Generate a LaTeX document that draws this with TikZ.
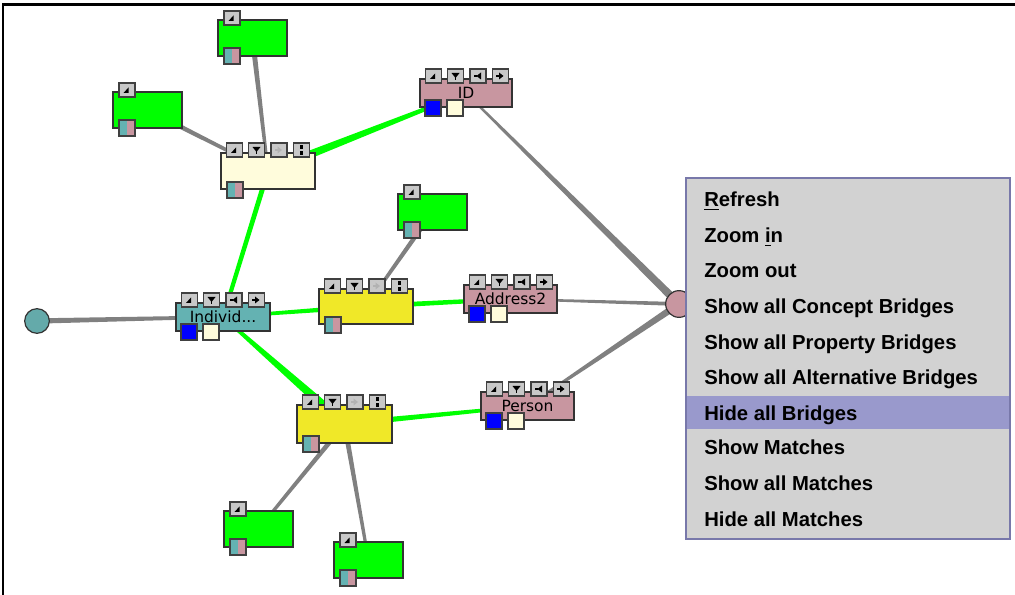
\documentclass[tikz,border=0pt]{standalone}
\usepackage{fontspec}
\newfontfamily\menufont{Liberation Sans}
\newfontfamily\labelfont{DejaVu Sans}
\usetikzlibrary{calc}

\definecolor{pinkc}{RGB}{200,150,160}
\definecolor{tealc}{RGB}{100,178,178}
\definecolor{creamc}{RGB}{255,252,220}
\definecolor{yellowc}{RGB}{240,232,40}
\definecolor{greenc}{RGB}{0,255,0}
\definecolor{edgegray}{RGB}{128,128,128}
\definecolor{btngray}{RGB}{200,200,200}
\definecolor{menubg}{RGB}{210,210,210}
\definecolor{menuedge}{RGB}{120,120,170}
\definecolor{menuhl}{RGB}{153,153,204}
\definecolor{rcirc}{RGB}{200,150,160}
\definecolor{lcirc}{RGB}{100,170,170}

\pgfdeclarelayer{bg}
\pgfdeclarelayer{edges}
\pgfsetlayers{bg,edges,main}

\tikzset{
  bodybox/.style={draw=black!80, line width=0.9pt, inner sep=0pt,
    font=\labelfont\fontsize{11.6}{13}\selectfont},
  btnbox/.style={draw=black!75, fill=btngray, line width=0.8pt, inner sep=0pt,
    minimum width=12pt, minimum height=10.5pt},
  sqbox/.style={draw=black!75, line width=0.8pt, inner sep=0pt, minimum size=12pt},
  splitsq/.style={sqbox, fill=tealc, path picture={
    \fill[pinkc] (path picture bounding box.north) rectangle (path picture bounding box.south east);}},
  menuitem/.style={anchor=base west, inner sep=0pt,
    font=\menufont\bfseries\fontsize{15.2}{18}\selectfont},
  upicon/.pic={\fill (-3.5,3) -- (1.5,3) -- (1.5,-2.5) -- cycle;},
  downicon/.pic={\fill (-4,-3) -- (4,-3) -- (0,2) -- cycle; \fill (-0.7,1) rectangle (0.7,4);},
  lefticon/.pic={\fill (-1.5,0) -- (3,-3.5) -- (3,3.5) -- cycle; \fill (-4.5,-0.7) rectangle (-1.5,0.7);},
  righticon/.pic={\fill (3,0) -- (-1.5,-3.5) -- (-1.5,3.5) -- cycle; \fill (-4.5,-0.7) rectangle (-1.5,0.7);},
  greyicon/.pic={\fill[black!30] (3,0) -- (-1.5,-3.5) -- (-1.5,3.5) -- cycle; \fill[black!30] (-4.5,-0.7) rectangle (-1.5,0.7);},
  splicon/.pic={\fill (-1.2,-5) rectangle (1.2,-1); \fill (-1.2,1) rectangle (1.2,5);},
}

% body rectangle: name, left, top, width, height, fill, label
\newcommand\mkbody[7]{\node[bodybox, fill=#6, minimum width={#4*0.75pt}, minimum height={#5*0.75pt}] (#1) at ({#2+#4/2},{#3+#5/2}) {#7};}
% small push button: name, left, top, icon
\newcommand\mkbtn[4]{\node[btnbox] (#1) at ({#2+8},{#3+7}) {}; \pic at (#1) {#4};}

% property-style node with four arrow buttons and two colour squares
\newcommand\propnode[7]{%
  \mkbody{#1}{#2}{#3}{#4}{#5}{#6}{#7}
  \mkbtn{#1-b1}{#2+5.5}{#3-10}{upicon}
  \mkbtn{#1-b2}{#2+27.5}{#3-10}{downicon}
  \mkbtn{#1-b3}{#2+50}{#3-10}{lefticon}
  \mkbtn{#1-b4}{#2+72.5}{#3-10}{righticon}
  \node[sqbox, fill=blue] (#1-s1) at ({#2+5+8},{#3+#5-7+8}) {};
  \node[sqbox, fill=creamc] (#1-s2) at ({#2+27+8},{#3+#5-7+8}) {};
}
% concept node with buttons and a split square
\newcommand\conceptnode[6]{%
  \mkbody{#1}{#2}{#3}{#4}{#5}{#6}{}
  \mkbtn{#1-b1}{#2+5.5}{#3-10}{upicon}
  \mkbtn{#1-b2}{#2+27.5}{#3-10}{downicon}
  \mkbtn{#1-b3}{#2+50}{#3-10}{greyicon}
  \mkbtn{#1-b4}{#2+72.5}{#3-10}{splicon}
  \node[splitsq] (#1-s) at ({#2+6+8},{#3+#5-7+8}) {};
}
% green leaf node
\newcommand\leafnode[3]{%
  \mkbody{#1}{#2}{#3}{69}{36}{greenc}{}
  \mkbtn{#1-b1}{#2+6}{#3-9}{upicon}
  \node[splitsq] (#1-s) at ({#2+6+8},{#3+36-8+8}) {};
}
% tapered connector: from, to, half width at from, half width at to, colour
\newcommand\taper[5]{\fill[#5] ($(#1)!#3!90:(#2)$) -- ($(#2)!#4!-90:(#1)$) -- ($(#2)!#4!90:(#1)$) -- ($(#1)!#3!-90:(#2)$) -- cycle;}

\begin{document}
\begin{tikzpicture}[x=0.75pt,y=-0.75pt]
\useasboundingbox (0,0) rectangle (1015,595);
\begin{pgfonlayer}{bg}
  \fill[white] (0,0) rectangle (1015,595);
  \draw[line width=1.6pt] (3,595) -- (3,4.5) -- (1015,4.5);
\end{pgfonlayer}

% nodes
\propnode{id}{420}{79}{92}{28}{pinkc}{ID}
\propnode{individ}{176}{303}{94}{28}{tealc}{Individ...}
\propnode{addr}{464}{285}{93}{28}{pinkc}{Address2}
\propnode{person}{481}{392}{93}{28}{pinkc}{Person}
\conceptnode{cream}{221}{153}{94}{36}{creamc}
\conceptnode{ymid}{319}{289}{94}{35}{yellowc}
\conceptnode{ybot}{297}{405}{95}{38}{yellowc}
\leafnode{g1}{218}{20}
\leafnode{g2}{113}{92}
\leafnode{g3}{398}{194}
\leafnode{g4}{224}{511}
\leafnode{g5}{334}{542}

\node[circle, draw=black!80, line width=0.9pt, fill=lcirc, minimum size=18.5pt, inner sep=0pt] (lc) at (37,321) {};
\node[circle, draw=black!80, line width=0.9pt, fill=rcirc, minimum size=20pt, inner sep=0pt] (rc) at (679,304) {};

% connectors
\begin{pgfonlayer}{edges}
  \taper{lc}{individ}{2pt}{1.2pt}{edgegray}
  \taper{id}{rc}{0.75pt}{3pt}{edgegray}
  \taper{addr}{rc}{0.75pt}{1.5pt}{edgegray}
  \taper{person}{rc}{0.75pt}{2.6pt}{edgegray}
  \taper{g1}{cream}{2pt}{1.1pt}{edgegray}
  \taper{g2}{cream}{1.9pt}{1.1pt}{edgegray}
  \taper{g3}{ymid}{1.9pt}{1.1pt}{edgegray}
  \taper{g4}{ybot}{1.1pt}{1.9pt}{edgegray}
  \taper{g5}{ybot}{1.1pt}{1.9pt}{edgegray}
  \taper{cream}{id}{3.4pt}{1.1pt}{greenc}
  \taper{cream}{individ}{1.9pt}{1.5pt}{greenc}
  \taper{individ}{ymid}{1.1pt}{1.9pt}{greenc}
  \taper{ymid}{addr}{1.9pt}{1.5pt}{greenc}
  \taper{individ}{ybot}{1.1pt}{3.75pt}{greenc}
  \taper{ybot}{person}{2.25pt}{1.1pt}{greenc}
\end{pgfonlayer}

% context menu
\node[draw=menuedge, fill=menubg, line width=1pt, inner sep=0pt, minimum width={324*0.75pt}, minimum height={361*0.75pt}] (menu) at (848,358.5) {};
\node[fill=menuhl, inner sep=0pt, minimum width={322*0.75pt}, minimum height={33*0.75pt}] (menuhl) at (848,412.5) {};
\node[menuitem] (mi1) at (704,207) {\underline{R}efresh};
\node[menuitem] (mi2) at (704,243) {Zoom \underline{i}n};
\node[menuitem] (mi3) at (704,278) {Zoom out};
\node[menuitem] (mi4) at (704,314) {Show all Concept Bridges};
\node[menuitem] (mi5) at (704,350) {Show all Property Bridges};
\node[menuitem] (mi6) at (704,385) {Show all Alternative Bridges};
\node[menuitem] (mi7) at (704,421) {Hide all Bridges};
\node[menuitem] (mi8) at (704,455) {Show Matches};
\node[menuitem] (mi9) at (704,491) {Show all Matches};
\node[menuitem] (mi10) at (704,527) {Hide all Matches};
\end{tikzpicture}
\end{document}
